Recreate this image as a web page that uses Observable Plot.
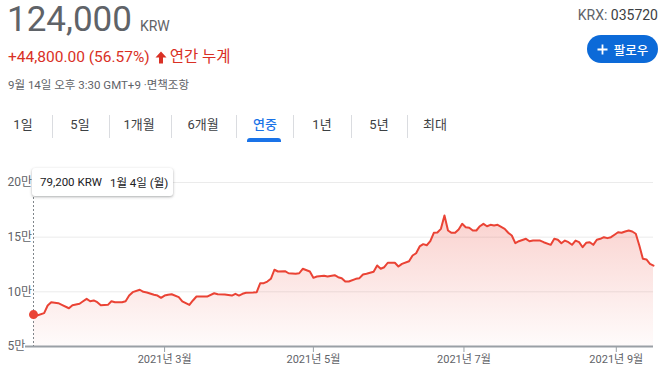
<!DOCTYPE html>
<html>
<head>
<meta charset="utf-8">
<script src="https://cdn.jsdelivr.net/npm/d3@7"></script>
<script src="https://cdn.jsdelivr.net/npm/@observablehq/plot@0.6"></script>
<style>
  html, body { margin: 0; padding: 0; background: #fff; }
  #root { position: relative; width: 671px; height: 379px; overflow: hidden; font-family: Roboto, "Noto Sans CJK KR", "Noto Sans", sans-serif; }
  .abs { position: absolute; white-space: nowrap; }
  #price { left: 7px; top: 0px; font-size: 35px; color: #5f6368; line-height: 40px; }
  #price .cur { font-size: 14px; margin-left: 8px; }
  #change { left: 8px; top: 47px; font-size: 15.5px; color: #d93025; line-height: 20px; display: flex; align-items: center; }
  #change svg { margin: 0 3px 0 5px; }
  #stamp { left: 8px; top: 77px; font-size: 11.5px; color: #5f6368; line-height: 16px; }
  #ticker { right: 13px; top: 6px; font-size: 14px; color: #5f6368; line-height: 18px; }
  #ticker b { font-weight: 400; color: #3c4043; }
  #follow { left: 587px; top: 35px; width: 71px; height: 28px; border-radius: 14px; background: #0c6ad8; color: #fff; font-size: 12.5px; font-weight: 500; display: flex; align-items: center; justify-content: center; gap: 6px; }
  .tab { top: 116px; font-size: 13px; color: #3c4043; line-height: 18px; transform: translateX(-50%); }
  .tab.on { color: #1a73e8; font-weight: 500; }
  .sep { top: 115px; width: 1px; height: 23px; background: #dadce0; }
  #under { left: 247px; top: 138px; width: 34px; height: 4px; background: #1a73e8; border-radius: 3px 3px 0 0; }
  #chart { left: 0; top: 150px; }
  #tip { left: 32px; top: 168px; width: 141px; height: 28px; background: #fff; border-radius: 3px; box-shadow: 0 1px 3px rgba(60,64,67,0.3), 0 1px 2px rgba(60,64,67,0.15); font-size: 11.5px; color: #202124; display: flex; align-items: center; padding-left: 8px; box-sizing: border-box; gap: 8px; }
</style>
</head>
<body>
<div id="root">
  <div id="price" class="abs"></div>
  <div id="change" class="abs"></div>
  <div id="stamp" class="abs">9월 14일 오후 3:30 GMT+9 ·면책조항</div>
  <div id="ticker" class="abs">KRX: <b>035720</b></div>
  <div id="follow" class="abs"><svg width="11" height="11" viewBox="0 0 11 11"><path d="M5.5 0.5v10M0.5 5.5h10" stroke="#fff" stroke-width="1.8"/></svg><span>팔로우</span></div>
  <div id="tabs"></div>
  <div id="under" class="abs"></div>
  <div id="chart" class="abs"></div>
  <div id="tip" class="abs"></div>
</div>
<script>
// ---- data ----
const currency = "KRW";
const lastPrice = 124000;
const change = 44800;
const changePct = 56.57;
const periodLabel = "연간 누계";

const tabLabels = ["1일", "5일", "1개월", "6개월", "연중", "1년", "5년", "최대"];
const tabCenters = [23, 80, 139, 203, 265, 322, 379, 435];
const tabSeps = [52, 109, 171, 236, 293, 351, 407];
const activeTab = "연중";

// trading-day index since 2021-01-04
const days = [0,1,3,4,5,7,8,10,11,13,14,15,16,17,18,19,21,22,23,25,26,27,28,30,31,32,34,35,36,37,38,39,41,42,44,45,46,47,49,51,52,54,56,57,58,59,60,62,63,64,65,66,67,68,69,71,72,74,75,76,78,79,80,82,83,85,86,87,88,89,91,92,93,94,96,97,98,99,100,102,103,104,106,107,108,109,110,111,112,113,114,115,116,117,118,119,120,121,122,123,124,125,126,127,128,129,130,131,133,134,135,136,137,139,140,141,143,144,146,147,148,149,150,151,152,153,154,155,156,157,158,159,160,161,162,163,164,165,166,167,168,169,170,171,172,173,174,175];
const prices = [79200,78400,80500,87500,90500,89600,88100,85000,87800,89100,91400,93600,91400,92100,90500,87800,88100,91400,90500,90500,91400,96600,99700,101900,100000,99400,97300,96600,94500,96600,97300,97800,95100,91300,88000,92100,95700,95700,95700,98700,97800,97600,96600,98200,96600,98200,99100,99400,99700,107900,107900,109400,111900,120200,118600,118900,117000,116500,117000,121100,118600,112800,114000,114700,114000,115200,113400,112500,109400,109400,111900,112500,115900,116500,118300,124100,121100,122500,126600,126600,123200,125600,128000,133200,135300,141500,143600,142600,146300,154000,154300,157600,169800,156100,154000,154000,157000,162200,159100,158600,156100,156100,160000,162200,160000,161300,160700,161300,157600,154000,151500,144500,146300,148500,146300,146900,146900,145400,143000,148500,147700,144500,146900,145400,143000,146900,145400,140800,144800,145400,143000,147600,148500,150000,149100,150000,152200,154500,154000,155200,156100,155200,153100,142400,130200,129600,125600,124000];

const yTicks = [50000, 100000, 150000, 200000];
const xTickDays = [37, 79, 121.5, 164.5];
const xTickLabels = ["2021년 3월", "2021년 5월", "2021년 7월", "2021년 9월"];
const firstDateLabel = "1월 4일 (월)";

// ---- header ----
const fmt0 = d3.format(",");
document.getElementById("price").innerHTML = `${fmt0(lastPrice)}<span class="cur">${currency}</span>`;
document.getElementById("change").innerHTML =
  `<span>+${d3.format(",.2f")(change)} (${changePct.toFixed(2)}%)</span>` +
  `<svg width="12" height="13" viewBox="0 0 12 13"><path d="M6 0.5 L11.5 6.5 H8 V12.5 H4 V6.5 H0.5 Z" fill="#d93025"/></svg>` +
  `<span>${periodLabel}</span>`;

const tabs = document.getElementById("tabs");
tabLabels.forEach((t, i) => {
  const el = document.createElement("div");
  el.className = "abs tab" + (t === activeTab ? " on" : "");
  el.style.left = tabCenters[i] + "px";
  el.textContent = t;
  tabs.appendChild(el);
});
tabSeps.forEach(x => {
  const el = document.createElement("div");
  el.className = "abs sep";
  el.style.left = x + "px";
  tabs.appendChild(el);
});

document.getElementById("tip").innerHTML = `<span>${fmt0(prices[0])} ${currency}</span><span>${firstDateLabel}</span>`;

// ---- chart ----
const data = days.map((d, i) => ({day: d, price: prices[i]}));
const labelOf = new Map(xTickDays.map((d, i) => [d, xTickLabels[i]]));
const red = "#ea4335";

const plot = Plot.plot({
  width: 671,
  height: 229,
  marginLeft: 33,
  marginRight: 18,
  marginTop: 32,
  marginBottom: 33,
  x: {domain: [0, 175], axis: null},
  y: {domain: [50000, 200000], axis: null},
  style: {fontFamily: 'Roboto, "Noto Sans CJK KR", sans-serif', background: "transparent", overflow: "visible"},
  marks: [
    Plot.gridY(yTicks.slice(1), {stroke: "#ebebeb", strokeOpacity: 1}),
    Plot.areaY(data, {x: "day", y: "price", y1: yTicks[0], fill: "url(#fadeRed)", curve: "linear"}),
    Plot.line(data, {x: "day", y: "price", stroke: red, strokeWidth: 2, strokeLinejoin: "round"}),
    Plot.ruleY([yTicks[0]], {stroke: "#9aa0a6", strokeWidth: 2, insetLeft: -8}),
    Plot.ruleX([days[0]], {stroke: "#80868b", strokeDasharray: "2,2", strokeWidth: 1, insetTop: 15}),
    Plot.dot([data[0]], {x: "day", y: "price", r: 4.5, fill: red}),
    Plot.axisY(yTicks, {label: null, tickSize: 0, tickPadding: 0, textAnchor: "start", dx: -26, fontSize: 12, fill: "#5f6368",
      tickFormat: d => (d / 10000) + "만"}),
    Plot.axisX(xTickDays, {label: null, tickSize: 6, tickPadding: 3, stroke: "#9aa0a6", fontSize: 11, fill: "#5f6368",
      tickFormat: d => labelOf.get(d)})
  ]
});
plot.insertAdjacentHTML("afterbegin",
  `<defs><linearGradient id="fadeRed" x1="0" y1="0" x2="0" y2="1">
     <stop offset="0" stop-color="${red}" stop-opacity="0.24"/>
     <stop offset="1" stop-color="${red}" stop-opacity="0.02"/>
   </linearGradient></defs>`);
document.getElementById("chart").appendChild(plot);
</script>
</body>
</html>
